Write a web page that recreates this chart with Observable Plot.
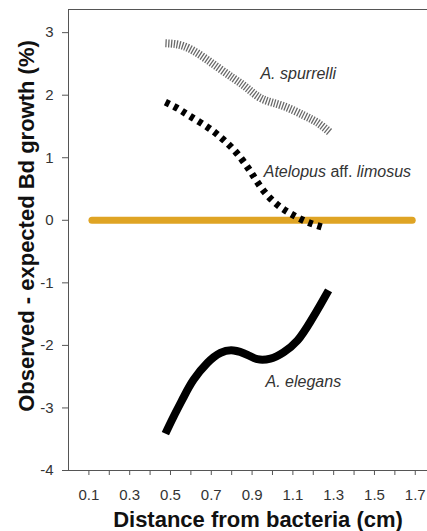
<!DOCTYPE html>
<html><head><meta charset="utf-8">
<script src="https://cdn.jsdelivr.net/npm/d3@7"></script>
<script src="https://cdn.jsdelivr.net/npm/@observablehq/plot@0.6"></script>
<style>
html,body{margin:0;padding:0;background:#fff;}
</style></head><body><div id="chart"></div>
<script>
// ---- data ----
const spurrelliX = [0.475, 0.56, 0.647, 0.730, 0.809, 0.877, 0.95, 1.05, 1.152, 1.221, 1.284];
const spurrelliY = [2.83, 2.79, 2.64, 2.45, 2.27, 2.11, 1.94, 1.83, 1.68, 1.56, 1.40];

const limosusX = [0.475, 0.534, 0.598, 0.681, 0.745, 0.804, 0.853, 0.892, 0.926, 0.975, 1.039, 1.103, 1.172, 1.245];
const limosusY = [1.89, 1.79, 1.66, 1.49, 1.33, 1.15, 0.96, 0.78, 0.61, 0.40, 0.21, 0.08, -0.03, -0.11];

const elegansX = [0.475, 0.515, 0.564, 0.613, 0.681, 0.745, 0.809, 0.877, 0.926, 0.990, 1.054, 1.123, 1.186, 1.235, 1.275];
const elegansY = [-3.41, -3.14, -2.83, -2.55, -2.28, -2.12, -2.08, -2.15, -2.22, -2.21, -2.11, -1.92, -1.62, -1.35, -1.12];

const controlX = [0.115, 1.685];
const controlY = [0, 0];

const seriesLabels = ["A. spurrelli", "Atelopus aff. limosus", "A. elegans"];
const seriesLabelX = [0.941, 0.957, 0.966];
const seriesLabelY = [2.336, 0.77, -2.576];

const xTickValues = [0.1, 0.2, 0.3, 0.4, 0.5, 0.6, 0.7, 0.8, 0.9, 1.0, 1.1, 1.2, 1.3, 1.4, 1.5, 1.6, 1.7];
const xTickLabels = ["0.1", "0.3", "0.5", "0.7", "0.9", "1.1", "1.3", "1.5", "1.7"];
const yTickValues = [-4, -3, -2, -1, 0, 1, 2, 3];
const xDomain = [0, 1.76];
const yDomain = [-4, 3.37];

const xTitle = "Distance from bacteria (cm)";
const yTitle = "Observed - expected Bd growth (%)";

// ---- tables ----
const toRows = (xs, ys) => xs.map((x, i) => ({x, y: ys[i]}));
const spurrelli = toRows(spurrelliX, spurrelliY);
const limosus = toRows(limosusX, limosusY);
const elegans = toRows(elegansX, elegansY);
const control = toRows(controlX, controlY);
const labels = seriesLabels.map((t, i) => ({t, x: seriesLabelX[i], y: seriesLabelY[i]}));

const font = "'Liberation Sans', Arial, Helvetica, sans-serif";

const chart = Plot.plot({
  width: 427,
  height: 531,
  marginLeft: 68,
  marginRight: 0,
  marginTop: 9,
  marginBottom: 61,
  style: {fontFamily: font, fontSize: "15px", color: "#333", background: "#fff"},
  x: {domain: xDomain},
  y: {domain: yDomain},
  marks: [
    Plot.frame({anchor: "top", stroke: "#555"}),
    Plot.frame({anchor: "left", stroke: "#555"}),
    Plot.frame({anchor: "bottom", stroke: "#555"}),
    Plot.axisY({ticks: yTickValues, tickSize: 6, tickPadding: 9, tickFormat: d => String(d), label: null, fontSize: 15, stroke: "#555", fill: "#333"}),
    Plot.axisX({ticks: xTickValues, tickSize: 5, tickPadding: 14,
      tickFormat: d => xTickLabels.includes(d.toFixed(1)) ? d.toFixed(1) : "",
      label: null, fontSize: 15, stroke: "#555", fill: "#333"}),
    Plot.text([xTitle], {text: d => d, frameAnchor: "bottom", dy: 49, dx: 10, fontSize: 22, fontWeight: "bold", textAnchor: "middle", lineAnchor: "middle", fill: "#111"}),
    Plot.text([yTitle], {text: d => d, frameAnchor: "left", rotate: -90, dx: -42, dy: -14, fontSize: 22, fontWeight: "bold", textAnchor: "middle", lineAnchor: "middle", fill: "#111"}),
    Plot.line(control, {x: "x", y: "y", stroke: "#DFA424", strokeWidth: 7, strokeLinecap: "round"}),
    Plot.line(spurrelli, {x: "x", y: "y", curve: "natural", stroke: "#6a6a6a", strokeWidth: 8, strokeLinecap: "butt", strokeDasharray: "1.3,1.5"}),
    Plot.line(limosus, {x: "x", y: "y", curve: "natural", stroke: "#000", strokeWidth: 7, strokeLinecap: "butt", strokeDasharray: "4.5,5"}),
    Plot.line(elegans, {x: "x", y: "y", curve: "natural", stroke: "#000", strokeWidth: 8, strokeLinecap: "butt"}),
    Plot.text(labels, {x: "x", y: "y", text: "t", textAnchor: "start", lineAnchor: "middle", fontSize: 16, fontStyle: "italic", fill: "#333"})
  ]
});

document.getElementById("chart").appendChild(chart);

// mixed styling for "Atelopus aff. limosus"
chart.querySelectorAll("text").forEach(el => {
  if (el.textContent === "Atelopus aff. limosus") {
    el.textContent = "";
    const parts = [["Atelopus", "italic"], [" aff. ", "normal"], ["limosus", "italic"]];
    for (const [s, st] of parts) {
      const ts = document.createElementNS("http://www.w3.org/2000/svg", "tspan");
      ts.textContent = s;
      ts.setAttribute("font-style", st);
      ts.setAttribute("style", "white-space:pre");
      el.appendChild(ts);
    }
    el.setAttribute("style", "white-space:pre");
  }
});
</script>
</body></html>
